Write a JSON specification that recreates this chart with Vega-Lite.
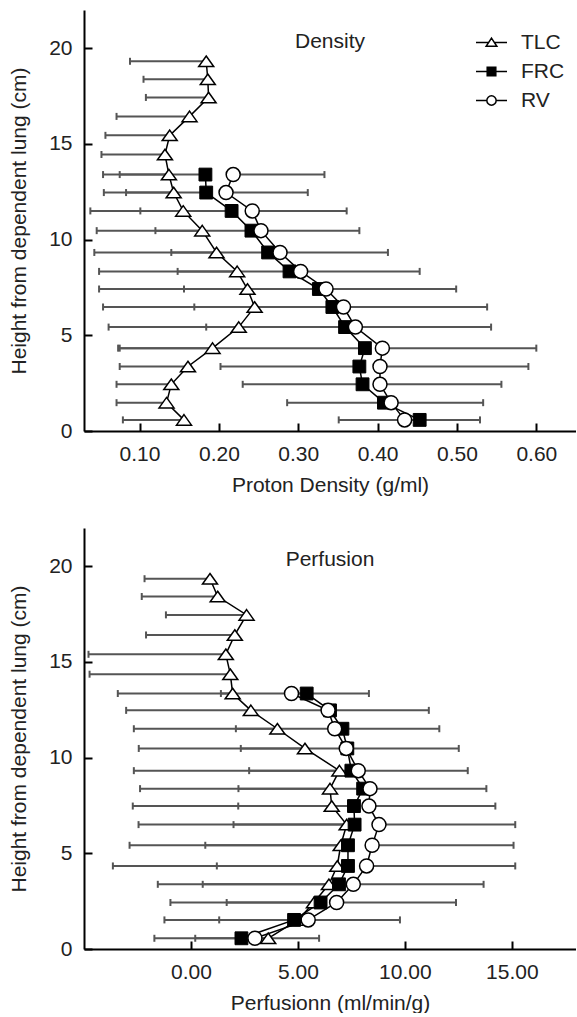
{
"$schema": "https://vega.github.io/schema/vega-lite/v6.json",
"background": "white",
"padding": {"left": 8, "top": 10, "right": 0, "bottom": 0},
"config": {
  "view": {"stroke": null},
  "font": "Liberation Sans",
  "axis": {"grid": false, "domainColor": "black", "domainWidth": 2, "tickColor": "black", "tickWidth": 2, "tickSize": -8, "labelPadding": 20, "labelFont": "Liberation Sans", "labelFontSize": 21, "labelColor": "#222", "titleFont": "Liberation Sans", "titleFontSize": 21, "titleFontWeight": "normal", "titleColor": "#222"},
  "axisX": {"titlePadding": 10},
  "axisY": {"titlePadding": 19},
  "title": {"font": "Liberation Sans", "fontSize": 21, "fontWeight": "normal", "color": "#222", "anchor": "middle", "offset": -42},
  "legend": {"labelFont": "Liberation Sans", "labelFontSize": 21, "labelColor": "#222", "symbolStrokeWidth": 1.5, "labelOffset": 19, "rowPadding": 7, "padding": 0}
},
"datasets": {"d": [
{"p":"D","s":"TLC","h":19.32,"v":0.184,"e":0.088},
{"p":"D","s":"TLC","h":18.38,"v":0.186,"e":0.105},
{"p":"D","s":"TLC","h":17.43,"v":0.187,"e":0.108},
{"p":"D","s":"TLC","h":16.44,"v":0.163,"e":0.071},
{"p":"D","s":"TLC","h":15.45,"v":0.138,"e":0.057},
{"p":"D","s":"TLC","h":14.45,"v":0.132,"e":0.052},
{"p":"D","s":"TLC","h":13.4,"v":0.137,"e":0.054},
{"p":"D","s":"TLC","h":12.46,"v":0.143,"e":0.055},
{"p":"D","s":"TLC","h":11.5,"v":0.155,"e":0.038},
{"p":"D","s":"TLC","h":10.47,"v":0.179,"e":0.046},
{"p":"D","s":"TLC","h":9.33,"v":0.197,"e":0.043},
{"p":"D","s":"TLC","h":8.34,"v":0.223,"e":0.049},
{"p":"D","s":"TLC","h":7.42,"v":0.236,"e":0.049},
{"p":"D","s":"TLC","h":6.48,"v":0.245,"e":0.054},
{"p":"D","s":"TLC","h":5.43,"v":0.225,"e":0.061},
{"p":"D","s":"TLC","h":4.33,"v":0.192,"e":0.073},
{"p":"D","s":"TLC","h":3.37,"v":0.161,"e":0.075},
{"p":"D","s":"TLC","h":2.44,"v":0.140,"e":0.071},
{"p":"D","s":"TLC","h":1.48,"v":0.134,"e":0.071},
{"p":"D","s":"TLC","h":0.58,"v":0.156,"e":0.079},
{"p":"D","s":"FRC","h":13.4,"v":0.183,"e":0.075},
{"p":"D","s":"FRC","h":12.46,"v":0.184,"e":0.083},
{"p":"D","s":"FRC","h":11.5,"v":0.216,"e":0.101},
{"p":"D","s":"FRC","h":10.47,"v":0.241,"e":0.120},
{"p":"D","s":"FRC","h":9.33,"v":0.262,"e":0.140},
{"p":"D","s":"FRC","h":8.34,"v":0.289,"e":0.148},
{"p":"D","s":"FRC","h":7.42,"v":0.326,"e":0.156},
{"p":"D","s":"FRC","h":6.48,"v":0.343,"e":0.169},
{"p":"D","s":"FRC","h":5.43,"v":0.359,"e":0.184},
{"p":"D","s":"FRC","h":4.33,"v":0.384,"e":0.075},
{"p":"D","s":"FRC","h":3.37,"v":0.377,"e":0.202},
{"p":"D","s":"FRC","h":2.44,"v":0.381,"e":0.230},
{"p":"D","s":"FRC","h":1.48,"v":0.408,"e":0.286},
{"p":"D","s":"FRC","h":0.58,"v":0.453,"e":0.351},
{"p":"D","s":"RV","h":13.4,"v":0.218,"e":0.333},
{"p":"D","s":"RV","h":12.46,"v":0.209,"e":0.312},
{"p":"D","s":"RV","h":11.5,"v":0.242,"e":0.361},
{"p":"D","s":"RV","h":10.47,"v":0.253,"e":0.377},
{"p":"D","s":"RV","h":9.33,"v":0.277,"e":0.413},
{"p":"D","s":"RV","h":8.34,"v":0.303,"e":0.453},
{"p":"D","s":"RV","h":7.42,"v":0.335,"e":0.499},
{"p":"D","s":"RV","h":6.48,"v":0.357,"e":0.538},
{"p":"D","s":"RV","h":5.43,"v":0.372,"e":0.543},
{"p":"D","s":"RV","h":4.33,"v":0.406,"e":0.600},
{"p":"D","s":"RV","h":3.37,"v":0.403,"e":0.590},
{"p":"D","s":"RV","h":2.44,"v":0.403,"e":0.556},
{"p":"D","s":"RV","h":1.48,"v":0.417,"e":0.533},
{"p":"D","s":"RV","h":0.58,"v":0.434,"e":0.529},
{"p":"P","s":"TLC","h":19.35,"v":0.89,"e":-2.17},
{"p":"P","s":"TLC","h":18.42,"v":1.25,"e":-2.3},
{"p":"P","s":"TLC","h":17.46,"v":2.6,"e":-1.17},
{"p":"P","s":"TLC","h":16.41,"v":2.05,"e":-2.1},
{"p":"P","s":"TLC","h":15.4,"v":1.63,"e":-4.79},
{"p":"P","s":"TLC","h":14.36,"v":1.84,"e":-4.74},
{"p":"P","s":"TLC","h":13.35,"v":1.95,"e":-3.42},
{"p":"P","s":"TLC","h":12.47,"v":2.8,"e":-3.03},
{"p":"P","s":"TLC","h":11.51,"v":4.04,"e":-2.67},
{"p":"P","s":"TLC","h":10.48,"v":5.33,"e":-2.44},
{"p":"P","s":"TLC","h":9.32,"v":6.94,"e":-2.67},
{"p":"P","s":"TLC","h":8.38,"v":6.5,"e":-2.38},
{"p":"P","s":"TLC","h":7.47,"v":6.58,"e":-2.72},
{"p":"P","s":"TLC","h":6.5,"v":7.28,"e":-2.45},
{"p":"P","s":"TLC","h":5.42,"v":7.0,"e":-2.87},
{"p":"P","s":"TLC","h":4.34,"v":6.84,"e":-3.65},
{"p":"P","s":"TLC","h":3.38,"v":6.45,"e":-1.55},
{"p":"P","s":"TLC","h":2.43,"v":5.75,"e":-0.96},
{"p":"P","s":"TLC","h":1.52,"v":5.0,"e":-1.24},
{"p":"P","s":"TLC","h":0.56,"v":3.61,"e":-1.71},
{"p":"P","s":"FRC","h":13.35,"v":5.41,"e":1.4},
{"p":"P","s":"FRC","h":12.47,"v":6.5,"e":2.8},
{"p":"P","s":"FRC","h":11.51,"v":7.08,"e":2.1},
{"p":"P","s":"FRC","h":10.48,"v":7.31,"e":2.33},
{"p":"P","s":"FRC","h":9.32,"v":7.5,"e":2.72},
{"p":"P","s":"FRC","h":8.38,"v":8.05,"e":2.22},
{"p":"P","s":"FRC","h":7.47,"v":7.62,"e":2.21},
{"p":"P","s":"FRC","h":6.5,"v":7.65,"e":1.99},
{"p":"P","s":"FRC","h":5.42,"v":7.34,"e":0.67},
{"p":"P","s":"FRC","h":4.34,"v":7.34,"e":1.21},
{"p":"P","s":"FRC","h":3.38,"v":6.92,"e":0.55},
{"p":"P","s":"FRC","h":2.43,"v":6.06,"e":1.67},
{"p":"P","s":"FRC","h":1.52,"v":4.82,"e":1.32},
{"p":"P","s":"FRC","h":0.56,"v":2.36,"e":0.2},
{"p":"P","s":"RV","h":13.35,"v":4.7,"e":8.32},
{"p":"P","s":"RV","h":12.47,"v":6.41,"e":11.12},
{"p":"P","s":"RV","h":11.51,"v":6.72,"e":11.61},
{"p":"P","s":"RV","h":10.48,"v":7.26,"e":12.52},
{"p":"P","s":"RV","h":9.32,"v":7.82,"e":12.94},
{"p":"P","s":"RV","h":8.38,"v":8.37,"e":13.81},
{"p":"P","s":"RV","h":7.47,"v":8.32,"e":14.23},
{"p":"P","s":"RV","h":6.5,"v":8.79,"e":15.16},
{"p":"P","s":"RV","h":5.42,"v":8.47,"e":15.08},
{"p":"P","s":"RV","h":4.34,"v":8.21,"e":15.16},
{"p":"P","s":"RV","h":3.38,"v":7.59,"e":13.68},
{"p":"P","s":"RV","h":2.43,"v":6.81,"e":12.39},
{"p":"P","s":"RV","h":1.52,"v":5.48,"e":9.77},
{"p":"P","s":"RV","h":0.56,"v":2.99,"e":5.99}
]},
"spacing": 33,
"resolve": {"scale": {"shape": "independent", "fill": "independent", "stroke": "independent"}, "legend": {"shape": "independent", "fill": "independent", "stroke": "independent"}},
"vconcat": [
{
  "width": 492, "height": 421,
  "title": {"text": "Density"},
  "data": {"name": "d"},
  "transform": [{"filter": "datum.p == 'D'"}],
  "encoding": {
    "y": {"field": "h", "type": "quantitative", "scale": {"domain": [0, 22], "nice": false, "zero": false}, "axis": {"values": [0, 5, 10, 15, 20], "title": "Height from dependent lung (cm)"}},
    "x": {"field": "v", "type": "quantitative", "scale": {"domain": [0.03, 0.65], "nice": false, "zero": false}, "axis": {"values": [0.1, 0.2, 0.3, 0.4, 0.5, 0.6], "format": ".2f", "title": "Proton Density (g/ml)"}}
  },
  "layer": [
    {"mark": {"type": "rule", "color": "#555", "strokeWidth": 2}, "encoding": {"x2": {"field": "e"}}},
    {"mark": {"type": "tick", "orient": "vertical", "color": "#555", "size": 7, "thickness": 2, "opacity": 1}, "encoding": {"x": {"field": "e", "type": "quantitative"}}},
    {"mark": {"type": "line", "color": "black", "strokeWidth": 1.5}, "encoding": {"detail": {"field": "s"}, "order": {"field": "h", "type": "quantitative"}}},
    {"transform": [{"filter": "datum.s == 'TLC'"}], "mark": {"type": "point", "shape": "M0,-0.7L1,0.7L-1,0.7Z", "size": 225, "filled": true, "fill": "white", "stroke": "black", "strokeWidth": 1.5, "opacity": 1}, "encoding": {}},
    {"transform": [{"filter": "datum.s == 'FRC'"}], "mark": {"type": "point", "shape": "square", "size": 165, "filled": true, "fill": "black", "stroke": "black", "strokeWidth": 1, "opacity": 1}, "encoding": {}},
    {"transform": [{"filter": "datum.s == 'RV'"}], "mark": {"type": "point", "shape": "circle", "size": 196, "filled": true, "fill": "white", "stroke": "black", "strokeWidth": 1.5, "opacity": 1}, "encoding": {}},
    {"transform": [{"filter": "false"}], "mark": {"type": "point", "filled": true, "strokeWidth": 1.5, "size": 196, "opacity": 1},
     "encoding": {
       "shape": {"field": "s", "type": "nominal", "scale": {"domain": ["TLC", "FRC", "RV"], "range": ["M-3.1,0H-0.57M0.57,0H3.1M0,-0.86L1.07,0.75L-1.07,0.75Z", "M-3.1,0H-0.86M0.86,0H3.1M-0.86,-0.86H0.86V0.86H-0.86Z", "M-3.1,0H-0.93M0.93,0H3.1M0.93,0A0.93,0.93,0,1,1,-0.93,0A0.93,0.93,0,1,1,0.93,0Z"]}, "legend": {"title": null, "orient": "none", "legendX": 397, "legendY": 22}},
       "fill": {"field": "s", "type": "nominal", "scale": {"domain": ["TLC", "FRC", "RV"], "range": ["white", "black", "white"]}, "legend": {"title": null, "orient": "none", "legendX": 397, "legendY": 22}},
       "stroke": {"field": "s", "type": "nominal", "scale": {"domain": ["TLC", "FRC", "RV"], "range": ["black", "black", "black"]}, "legend": {"title": null, "orient": "none", "legendX": 397, "legendY": 22}}
     }}
  ]
},
{
  "width": 492, "height": 421,
  "title": {"text": "Perfusion"},
  "data": {"name": "d"},
  "transform": [{"filter": "datum.p == 'P'"}],
  "encoding": {
    "y": {"field": "h", "type": "quantitative", "scale": {"domain": [0, 22], "nice": false, "zero": false}, "axis": {"values": [0, 5, 10, 15, 20], "title": "Height from dependent lung (cm)"}},
    "x": {"field": "v", "type": "quantitative", "scale": {"domain": [-5, 18], "nice": false, "zero": false}, "axis": {"values": [0, 5, 10, 15], "format": ".2f", "title": "Perfusionn (ml/min/g)"}}
  },
  "layer": [
    {"mark": {"type": "rule", "color": "#555", "strokeWidth": 2}, "encoding": {"x2": {"field": "e"}}},
    {"mark": {"type": "tick", "orient": "vertical", "color": "#555", "size": 7, "thickness": 2, "opacity": 1}, "encoding": {"x": {"field": "e", "type": "quantitative"}}},
    {"mark": {"type": "line", "color": "black", "strokeWidth": 1.5}, "encoding": {"detail": {"field": "s"}, "order": {"field": "h", "type": "quantitative"}}},
    {"transform": [{"filter": "datum.s == 'TLC'"}], "mark": {"type": "point", "shape": "M0,-0.7L1,0.7L-1,0.7Z", "size": 225, "filled": true, "fill": "white", "stroke": "black", "strokeWidth": 1.5, "opacity": 1}, "encoding": {}},
    {"transform": [{"filter": "datum.s == 'FRC'"}], "mark": {"type": "point", "shape": "square", "size": 165, "filled": true, "fill": "black", "stroke": "black", "strokeWidth": 1, "opacity": 1}, "encoding": {}},
    {"transform": [{"filter": "datum.s == 'RV'"}], "mark": {"type": "point", "shape": "circle", "size": 196, "filled": true, "fill": "white", "stroke": "black", "strokeWidth": 1.5, "opacity": 1}, "encoding": {}}
  ]
}
]
}
